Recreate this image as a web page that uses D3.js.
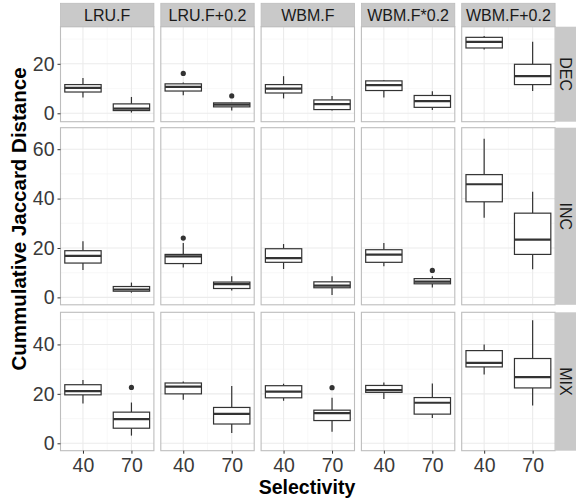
<!DOCTYPE html>
<html>
  <head>
    <meta http-equiv="Content-Type" content="text/html;charset=utf-8"/>
    <title>Cummulative Jaccard Distance</title>
    <script src="https://d3js.org/d3.v7.min.js"></script>
  </head>
  <body style="margin:0">
    <div id="content"></div>
    <script type="text/javascript">

        // facet columns / rows
        const methods = ['LRU.F', 'LRU.F+0.2', 'WBM.F', 'WBM.F*0.2', 'WBM.F+0.2']
        const patterns = ['DEC', 'INC', 'MIX']
        const selectivity = [40, 70]

        // y ticks per row
        const yTicks = { DEC: [0, 20], INC: [0, 20, 40, 60], MIX: [0, 20, 40] }
        const yMinor = { DEC: [10, 30], INC: [10, 30, 50], MIX: [10, 30, 50] }
        const yDomains = { DEC: [-3.4, 35], INC: [-3, 68.7], MIX: [-3, 53] }

        // box stats: [method, selectivity, lowWhisker, q1, median, q3, highWhisker]
        const decStats = [
            ['LRU.F', 40, 6.4, 8.6, 10.3, 11.6, 14.3],
            ['LRU.F', 70, 0.3, 1.1, 1.9, 3.8, 6.6],
            ['LRU.F+0.2', 40, 7.3, 9.0, 10.7, 11.9, 12.4],
            ['LRU.F+0.2', 70, 1.1, 2.6, 3.5, 4.2, 4.2],
            ['WBM.F', 40, 6.0, 8.2, 10.0, 11.6, 15.0],
            ['WBM.F', 70, 1.1, 1.5, 3.7, 5.4, 7.0],
            ['WBM.F*0.2', 40, 6.4, 9.2, 11.4, 13.1, 13.4],
            ['WBM.F*0.2', 70, 1.3, 2.4, 4.9, 7.2, 8.9],
            ['WBM.F+0.2', 40, 25.8, 26.4, 28.9, 30.7, 31.2],
            ['WBM.F+0.2', 70, 9.0, 11.6, 15.0, 19.8, 28.9]
        ]
        const incStats = [
            ['LRU.F', 40, 11.1, 13.9, 16.8, 18.9, 22.7],
            ['LRU.F', 70, 1.9, 2.5, 3.2, 4.4, 6.0],
            ['LRU.F+0.2', 40, 12.1, 13.7, 16.6, 17.4, 22.0],
            ['LRU.F+0.2', 70, 2.8, 3.6, 5.4, 6.2, 8.6],
            ['WBM.F', 40, 11.5, 14.2, 15.9, 19.7, 21.6],
            ['WBM.F', 70, 1.0, 3.9, 4.8, 6.3, 8.6],
            ['WBM.F*0.2', 40, 12.6, 14.2, 17.3, 19.3, 22.0],
            ['WBM.F*0.2', 70, 4.0, 5.5, 6.4, 7.6, 8.6],
            ['WBM.F+0.2', 40, 32.2, 38.7, 45.8, 49.7, 64.2],
            ['WBM.F+0.2', 70, 11.4, 17.4, 23.4, 34.1, 42.8]
        ]
        const mixStats = [
            ['LRU.F', 40, 16.1, 19.6, 21.1, 23.7, 25.6],
            ['LRU.F', 70, 3.1, 6.1, 9.8, 12.6, 16.5],
            ['LRU.F+0.2', 40, 17.6, 20.0, 22.9, 24.4, 25.0],
            ['LRU.F+0.2', 70, 4.2, 7.8, 11.9, 14.5, 23.2],
            ['WBM.F', 40, 17.2, 18.4, 20.9, 23.3, 24.1],
            ['WBM.F', 70, 4.7, 9.2, 12.2, 13.4, 18.4],
            ['WBM.F*0.2', 40, 17.9, 20.6, 21.5, 23.4, 24.6],
            ['WBM.F*0.2', 70, 10.2, 11.8, 16.4, 18.5, 24.2],
            ['WBM.F+0.2', 40, 27.8, 30.9, 32.5, 37.5, 40.0],
            ['WBM.F+0.2', 70, 15.3, 22.4, 26.8, 34.3, 49.8]
        ]
        const stats = { DEC: decStats, INC: incStats, MIX: mixStats }

        // outliers: [pattern, method, selectivity, value]
        const outliers = [
            ['DEC', 'LRU.F+0.2', 40, 16.1],
            ['DEC', 'LRU.F+0.2', 70, 7.0],
            ['INC', 'LRU.F+0.2', 40, 24.0],
            ['INC', 'WBM.F*0.2', 70, 10.9],
            ['MIX', 'LRU.F', 70, 22.6],
            ['MIX', 'WBM.F', 70, 22.5]
        ]

        const width = 576,
            height = 501

        const panelLeft = 60.5, panelW = 93.4, panelStep = 100.3
        const rowTop = { DEC: 26.7, INC: 127.7, MIX: 312.3 }
        const rowBottom = { DEC: 121.7, INC: 304.8, MIX: 450.7 }
        const boxWidth = 22.5

        const svg = d3.select('#content').append('svg')
            .attr('width', width)
            .attr('height', height)
            .style('font-family', 'Liberation Sans, Arial, sans-serif')

        svg.append('rect').attr('width', width).attr('height', height).attr('fill', '#fff')

        const x = d3.scaleLinear().domain([26.1, 83.9]).range([0, panelW])

        patterns.forEach((p, ri) => {
            const y = d3.scaleLinear().domain(yDomains[p]).range([rowBottom[p], rowTop[p]])

            methods.forEach((m, ci) => {
                const g = svg.append('g').attr('transform', `translate(${panelLeft + ci * panelStep},0)`)

                g.append('rect')
                    .attr('x', 0).attr('y', rowTop[p])
                    .attr('width', panelW).attr('height', rowBottom[p] - rowTop[p])
                    .attr('fill', '#fff')

                // minor grid
                g.selectAll('.hmin').data(yMinor[p]).enter().append('line')
                    .attr('x1', 0).attr('x2', panelW)
                    .attr('y1', d => y(d)).attr('y2', d => y(d))
                    .attr('stroke', '#f4f4f4').attr('stroke-width', 0.6)
                g.append('line')
                    .attr('x1', x(55)).attr('x2', x(55))
                    .attr('y1', rowTop[p]).attr('y2', rowBottom[p])
                    .attr('stroke', '#f4f4f4').attr('stroke-width', 0.6)
                // major grid
                g.selectAll('.hmaj').data(yTicks[p]).enter().append('line')
                    .attr('x1', 0).attr('x2', panelW)
                    .attr('y1', d => y(d)).attr('y2', d => y(d))
                    .attr('stroke', '#ebebeb').attr('stroke-width', 1.1)
                g.selectAll('.vmaj').data(selectivity).enter().append('line')
                    .attr('x1', d => x(d)).attr('x2', d => x(d))
                    .attr('y1', rowTop[p]).attr('y2', rowBottom[p])
                    .attr('stroke', '#ebebeb').attr('stroke-width', 1.1)

                // boxes
                const rows = stats[p].filter(d => d[0] === m)
                rows.forEach(d => {
                    const cx = x(d[1])
                    const x0 = x(d[1] - boxWidth / 2), x1 = x(d[1] + boxWidth / 2)
                    g.append('line')
                        .attr('x1', cx).attr('x2', cx)
                        .attr('y1', y(d[6])).attr('y2', y(d[5]))
                        .attr('stroke', '#333').attr('stroke-width', 1.2)
                    g.append('line')
                        .attr('x1', cx).attr('x2', cx)
                        .attr('y1', y(d[3])).attr('y2', y(d[2]))
                        .attr('stroke', '#333').attr('stroke-width', 1.2)
                    g.append('rect')
                        .attr('x', x0).attr('y', y(d[5]))
                        .attr('width', x1 - x0).attr('height', y(d[3]) - y(d[5]))
                        .attr('fill', '#fff').attr('stroke', '#333').attr('stroke-width', 1.2)
                    g.append('line')
                        .attr('x1', x0).attr('x2', x1)
                        .attr('y1', y(d[4])).attr('y2', y(d[4]))
                        .attr('stroke', '#333').attr('stroke-width', 2.2)
                })

                g.selectAll('.out').data(outliers.filter(d => d[0] === p && d[1] === m))
                    .enter().append('circle')
                    .attr('cx', d => x(d[2])).attr('cy', d => y(d[3]))
                    .attr('r', 2.6).attr('fill', '#333')

                g.append('rect')
                    .attr('x', 0).attr('y', rowTop[p])
                    .attr('width', panelW).attr('height', rowBottom[p] - rowTop[p])
                    .attr('fill', 'none').attr('stroke', '#bdbdbd').attr('stroke-width', 1.1)

                // top strips
                if (ri === 0) {
                    g.append('rect')
                        .attr('x', 0).attr('y', 3.3).attr('width', panelW).attr('height', 23.4)
                        .attr('fill', '#c9c9c9').attr('stroke', '#bdbdbd').attr('stroke-width', 0.8)
                    g.append('text')
                        .attr('x', panelW / 2).attr('y', 15.5)
                        .attr('text-anchor', 'middle').attr('dominant-baseline', 'central')
                        .attr('font-size', 16).attr('fill', '#1a1a1a')
                        .text(m)
                }

                // x axis on bottom row
                if (ri === patterns.length - 1) {
                    const ax = g.append('g').attr('transform', `translate(0,${rowBottom[p]})`)
                        .call(d3.axisBottom(x).tickValues(selectivity).tickSize(3).tickPadding(4))
                    ax.select('.domain').remove()
                    ax.selectAll('line').attr('stroke', '#333')
                    ax.selectAll('text').attr('font-size', 19.5).attr('fill', '#3a3a3a')
                        .attr('font-family', 'Liberation Sans, Arial, sans-serif')
                }
            })

            // y axis
            const ay = svg.append('g').attr('transform', `translate(${panelLeft},0)`)
                .call(d3.axisLeft(y).tickValues(yTicks[p]).tickSize(3).tickPadding(3))
            ay.select('.domain').remove()
            ay.selectAll('line').attr('stroke', '#333')
            ay.selectAll('text').attr('font-size', 19.5).attr('fill', '#3a3a3a')
                .attr('font-family', 'Liberation Sans, Arial, sans-serif')

            // right strip
            const sx = panelLeft + 4 * panelStep + panelW
            svg.append('rect')
                .attr('x', sx).attr('y', rowTop[p])
                .attr('width', width - sx).attr('height', rowBottom[p] - rowTop[p])
                .attr('fill', '#c9c9c9')
            const cy = (rowTop[p] + rowBottom[p]) / 2
            svg.append('text')
                .attr('transform', `translate(${(sx + width) / 2},${cy}) rotate(90)`)
                .attr('text-anchor', 'middle').attr('dominant-baseline', 'central')
                .attr('font-size', 16).attr('fill', '#1a1a1a')
                .text(p)
        })

        // axis titles
        svg.append('text')
            .attr('transform', 'translate(18.5,219) rotate(-90)')
            .attr('text-anchor', 'middle').attr('dominant-baseline', 'central')
            .attr('font-size', 20.5).attr('font-weight', 'bold').attr('fill', '#000')
            .text('Cummulative Jaccard Distance')

        svg.append('text')
            .attr('x', 307).attr('y', 494)
            .attr('text-anchor', 'middle')
            .attr('font-size', 19.5).attr('font-weight', 'bold').attr('fill', '#000')
            .text('Selectivity')

    </script>
  </body>
</html>
